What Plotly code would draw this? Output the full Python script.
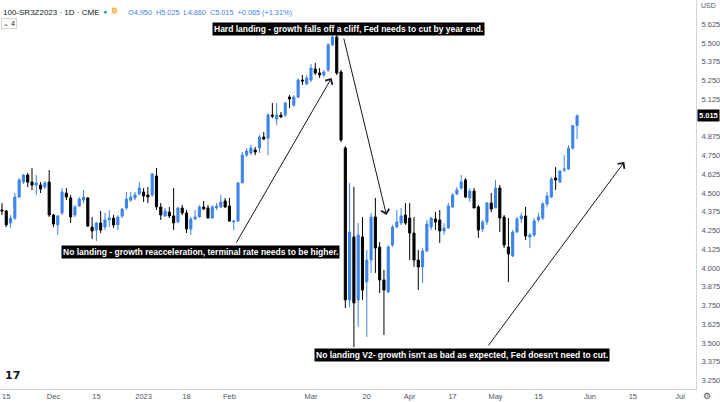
import pandas as pd
import plotly.graph_objects as go

# -------- DATOS (100 - SR3Z2023, diario) --------
feriados = ["2022-11-24", "2022-12-26", "2023-01-02", "2023-01-16", "2023-02-20",
            "2023-05-29", "2023-06-19", "2023-07-04"]
fechas = [d for d in pd.bdate_range("2022-11-14", "2023-05-26") if d.strftime("%Y-%m-%d") not in feriados]

apertura = [4.387, 4.380, 4.300, 4.333, 4.473, 4.573, 4.620, 4.573, 4.553, 4.553,
            4.540, 4.573, 4.353, 4.287, 4.367, 4.500, 4.467, 4.353, 4.413, 4.453,
            4.467, 4.273, 4.253, 4.300, 4.273, 4.320, 4.333, 4.287, 4.347, 4.400,
            4.453, 4.467, 4.493, 4.507, 4.487, 4.487, 4.613, 4.407, 4.347, 4.373,
            4.347, 4.307, 4.400, 4.367, 4.260, 4.327, 4.340, 4.407, 4.400, 4.333,
            4.400, 4.407, 4.447, 4.413, 4.307, 4.313, 4.567, 4.753, 4.767, 4.787,
            4.800, 4.873, 4.867, 5.020, 4.993, 5.020, 5.020, 5.140, 5.087, 5.140,
            5.253, 5.227, 5.253, 5.327, 5.300, 5.287, 5.320, 5.487, 5.540, 5.307,
            4.800, 3.787, 4.207, 3.787, 4.207, 3.907, 4.053, 4.340, 4.140, 3.920,
            3.840, 4.153, 4.273, 4.300, 4.353, 4.333, 4.233, 4.053, 4.007, 4.113,
            4.273, 4.327, 4.320, 4.247, 4.267, 4.407, 4.493, 4.533, 4.587, 4.467,
            4.513, 4.407, 4.260, 4.307, 4.433, 4.400, 4.533, 4.340, 4.140, 4.080,
            4.240, 4.327, 4.347, 4.207, 4.220, 4.320, 4.333, 4.427, 4.473, 4.600,
            4.573, 4.653, 4.660, 4.800, 4.950]
maximo = [4.433, 4.387, 4.353, 4.500, 4.600, 4.627, 4.633, 4.667, 4.620, 4.573,
          4.580, 4.653, 4.360, 4.353, 4.533, 4.533, 4.487, 4.420, 4.473, 4.520,
          4.473, 4.340, 4.307, 4.380, 4.367, 4.387, 4.353, 4.353, 4.400, 4.507,
          4.507, 4.507, 4.573, 4.533, 4.540, 4.633, 4.667, 4.433, 4.400, 4.407,
          4.533, 4.407, 4.420, 4.387, 4.340, 4.387, 4.420, 4.447, 4.420, 4.420,
          4.433, 4.487, 4.467, 4.467, 4.320, 4.573, 4.773, 4.800, 4.820, 4.807,
          4.887, 4.907, 5.033, 5.100, 5.100, 5.040, 5.107, 5.153, 5.153, 5.267,
          5.287, 5.287, 5.360, 5.367, 5.333, 5.320, 5.500, 5.553, 5.553, 5.320,
          4.813, 4.567, 4.540, 4.300, 4.340, 4.120, 4.367, 4.467, 4.173, 3.987,
          4.153, 4.287, 4.387, 4.400, 4.433, 4.433, 4.340, 4.120, 4.133, 4.320,
          4.340, 4.373, 4.387, 4.300, 4.433, 4.500, 4.540, 4.620, 4.600, 4.533,
          4.533, 4.420, 4.320, 4.440, 4.500, 4.587, 4.553, 4.353, 4.333, 4.253,
          4.340, 4.367, 4.407, 4.233, 4.333, 4.367, 4.440, 4.507, 4.607, 4.673,
          4.653, 4.753, 4.820, 4.953, 5.025]
minimo = [4.353, 4.273, 4.267, 4.320, 4.467, 4.560, 4.540, 4.520, 4.487, 4.500,
          4.527, 4.340, 4.273, 4.220, 4.353, 4.453, 4.300, 4.340, 4.407, 4.433,
          4.273, 4.193, 4.180, 4.233, 4.253, 4.273, 4.267, 4.253, 4.333, 4.387,
          4.440, 4.453, 4.487, 4.440, 4.433, 4.473, 4.387, 4.320, 4.340, 4.333,
          4.253, 4.300, 4.353, 4.233, 4.220, 4.320, 4.340, 4.387, 4.333, 4.327,
          4.387, 4.400, 4.400, 4.307, 4.253, 4.307, 4.567, 4.740, 4.753, 4.753,
          4.767, 4.853, 4.753, 5.000, 4.953, 5.000, 5.007, 5.067, 5.073, 5.133,
          5.220, 5.220, 5.240, 5.287, 5.267, 5.273, 5.307, 5.480, 5.287, 4.840,
          3.733, 3.740, 3.473, 3.607, 3.787, 3.540, 3.967, 3.967, 3.833, 3.553,
          3.833, 4.140, 4.267, 4.287, 4.287, 4.053, 4.007, 3.853, 3.900, 4.107,
          4.253, 4.253, 4.167, 4.220, 4.260, 4.400, 4.487, 4.520, 4.467, 4.440,
          4.400, 4.200, 4.240, 4.287, 4.373, 4.400, 4.240, 4.133, 3.907, 4.073,
          4.233, 4.300, 4.187, 4.133, 4.207, 4.307, 4.320, 4.407, 4.467, 4.520,
          4.567, 4.640, 4.653, 4.787, 4.860]
cierre = [4.380, 4.287, 4.333, 4.473, 4.587, 4.620, 4.573, 4.553, 4.567, 4.527,
          4.567, 4.353, 4.293, 4.347, 4.507, 4.473, 4.340, 4.407, 4.460, 4.473,
          4.280, 4.247, 4.300, 4.253, 4.320, 4.333, 4.287, 4.340, 4.393, 4.460,
          4.473, 4.487, 4.533, 4.480, 4.473, 4.627, 4.407, 4.353, 4.380, 4.347,
          4.300, 4.400, 4.367, 4.260, 4.327, 4.340, 4.407, 4.393, 4.333, 4.407,
          4.413, 4.440, 4.407, 4.313, 4.313, 4.567, 4.753, 4.780, 4.800, 4.773,
          4.873, 4.860, 5.020, 5.013, 5.020, 5.007, 5.100, 5.127, 5.140, 5.253,
          5.247, 5.267, 5.333, 5.300, 5.287, 5.307, 5.487, 5.540, 5.300, 4.853,
          3.787, 4.240, 3.767, 4.220, 3.853, 4.053, 4.340, 4.133, 3.920, 3.853,
          4.140, 4.273, 4.307, 4.347, 4.300, 4.233, 4.053, 4.007, 4.113, 4.293,
          4.333, 4.307, 4.247, 4.267, 4.413, 4.487, 4.520, 4.573, 4.473, 4.513,
          4.400, 4.253, 4.307, 4.433, 4.393, 4.533, 4.333, 4.153, 4.093, 4.240,
          4.327, 4.347, 4.213, 4.220, 4.313, 4.340, 4.427, 4.480, 4.593, 4.587,
          4.647, 4.660, 4.800, 4.950, 5.015]

# etiquetas del eje x (estilo TradingView)
ticks_x = ["2022-11-15", "2022-12-01", "2022-12-15", "2023-01-03", "2023-01-18", "2023-02-01",
           "2023-03-01", "2023-03-20", "2023-04-03", "2023-04-17", "2023-05-01", "2023-05-15",
           "2023-06-01", "2023-06-15", "2023-07-03"]
textos_x = ["15", "Dec", "15", "2023", "18", "Feb", "Mar", "20", "Apr", "17", "May", "15",
            "Jun", "15", "Jul"]
# 5.000 queda tapado por la etiqueta del ultimo precio
ticks_y = [3.25, 3.375, 3.5, 3.625, 3.75, 3.875, 4.0, 4.125, 4.25, 4.375, 4.5, 4.625,
           4.75, 4.875, 5.125, 5.25, 5.375, 5.5, 5.625]

AZUL = "#3d84ea"
TXT = "#131722"

# -------- GRAFICO --------
fig = go.Figure()
fig.add_trace(go.Candlestick(
    x=fechas, open=apertura, high=maximo, low=minimo, close=cierre,
    increasing=dict(line=dict(color=AZUL, width=1), fillcolor=AZUL),
    decreasing=dict(line=dict(color="#000000", width=1), fillcolor="#000000"),
    whiskerwidth=0, hoverinfo="x+y",
))

fig.update_layout(
    width=720, height=402,
    margin=dict(l=0, r=21, t=0, b=13),
    paper_bgcolor="white", plot_bgcolor="white",
    showlegend=False,
    font=dict(family="Liberation Sans, Arial", color=TXT),
    xaxis=dict(
        type="date", rangeslider=dict(visible=False),
        rangebreaks=[dict(bounds=["sat", "mon"]), dict(values=feriados)],
        range=["2022-11-11 13:00", "2023-07-07 17:00"],
        tickvals=ticks_x, ticktext=textos_x, tickfont=dict(size=7.5, color="#50535e"),
        showgrid=False, zeroline=False, showline=True, linecolor="#d1d4dc", linewidth=1,
        ticks="", ticklabelstandoff=0,
    ),
    yaxis=dict(
        side="right", range=[3.193, 5.787],
        tickvals=ticks_y, tickformat=".3f", tickfont=dict(size=7.5, color="#50535e"),
        showgrid=False, zeroline=False, showline=True, linecolor="#d1d4dc", linewidth=1,
        ticks="", ticklabelstandoff=3, mirror=False,
    ),
)

caja = dict(font=dict(color="white", size=8.5, family="Liberation Sans, Arial", weight="bold"),
            bgcolor="black", borderpad=1, showarrow=False, xref="paper", yref="paper",
            xanchor="center", yanchor="middle")
fig.add_annotation(text="Hard landing - growth falls off a cliff, Fed needs to cut by year end.",
                   x=0.5, y=0.9254, **caja)
fig.add_annotation(text="No landing - growth reacceleration, terminal rate needs to be higher.",
                   x=0.2883, y=0.3522, **caja)
fig.add_annotation(text="No landing V2- growth isn't as bad as expected, Fed doesn't need to cut.",
                   x=0.6638, y=0.0874, **caja)

# flechas
flecha = dict(text="", showarrow=True, arrowhead=4, arrowsize=1.6, arrowwidth=1,
              arrowcolor=TXT, xref="x", yref="y", standoff=0)
fig.add_annotation(x="2023-03-07 19:00", y=5.267, ax=-96, ay=166, **flecha)
fig.add_annotation(x="2023-03-24 14:00", y=4.353, ax=-43, ay=-178, **flecha)
fig.add_annotation(x="2023-06-13", y=4.707, ax=-137, ay=185, **flecha)

# encabezado
fig.add_annotation(text="100-SR3Z2023 · 1D · CME", x=0.001, y=0.985, xref="paper", yref="paper",
                   xanchor="left", showarrow=False, font=dict(size=8, color=TXT))
fig.add_annotation(text="●", x=105 / 699, y=0.985, xref="paper", yref="paper", xanchor="center",
                   showarrow=False, font=dict(size=7, color="#22ab94"))
fig.add_annotation(text="D", x=115 / 699, y=0.985, xref="paper", yref="paper", bgcolor="#fde9cc",
                   xanchor="center", borderpad=0, showarrow=False,
                   font=dict(size=7, color="#f7a21b", weight="bold"))
fig.add_annotation(text="O4.950  H5.025  L4.860  C5.015  +0.065 (+1.31%)", x=127 / 699, y=0.985,
                   xref="paper", yref="paper", xanchor="left", showarrow=False,
                   font=dict(size=7.3, color=AZUL))
fig.add_annotation(text="⌄ 4", x=0.002, y=0.955, xref="paper", yref="paper", xanchor="left",
                   showarrow=False, bordercolor="#d1d4dc", borderwidth=1, borderpad=1,
                   font=dict(size=7, color=TXT))
fig.add_annotation(text="<b>17</b>", x=0.004, y=0.012, xref="paper", yref="paper", xanchor="left",
                   yanchor="bottom", showarrow=False, font=dict(size=11, color=TXT, family="DejaVu Sans"))

# eje de precios: USD y ultimo precio
fig.add_annotation(text="USD", x=1.0, y=1.0, xref="paper", yref="paper", xanchor="left",
                   yanchor="top", xshift=3, showarrow=False, font=dict(size=7, color="#50535e"))
fig.add_annotation(text="5.015", x=1.0, y=cierre[-1], xref="paper", yref="y", xanchor="left",
                   xshift=1, showarrow=False, bgcolor="black", borderpad=1,
                   font=dict(size=7.5, color="white", weight="bold"))
fig.add_annotation(text="⚙", x=1.0, y=0, xref="paper", yref="paper", xanchor="left", yanchor="top",
                   xshift=5, showarrow=False, font=dict(size=9, color="#50535e"))

# sin margen del body para que la figura ocupe toda la ventana
fig.write_html("out.html", config={"displayModeBar": False},
               post_script="document.body.style.margin='0px';")
